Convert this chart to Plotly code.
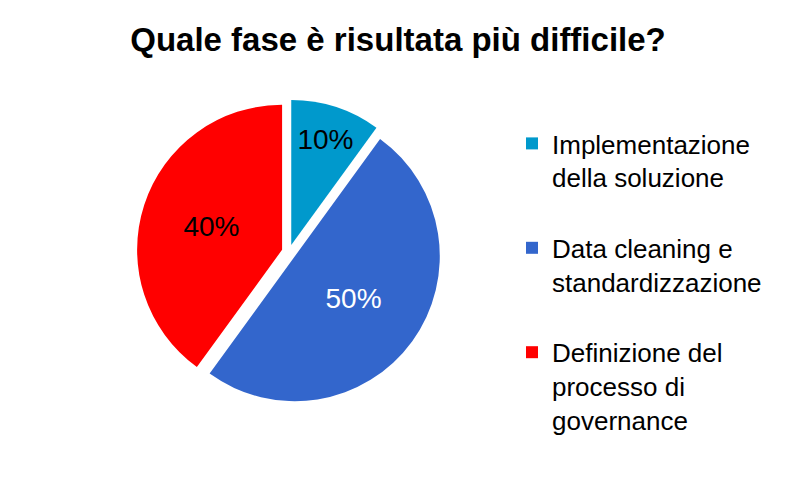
import plotly.graph_objects as go

labels = ["Implementazione<br>della soluzione",
          "Data cleaning e<br>standardizzazione",
          "Definizione del<br>processo di<br>governance"]
values = [10, 50, 40]
colors = ["#0099CC", "#3366CC", "#FF0000"]
text_colors = ["#000000", "#FFFFFF", "#000000"]
title = "Quale fase è risultata più difficile?"

legend_labels = [l + "<br> " for l in labels]

fig = go.Figure(go.Pie(
    labels=legend_labels,
    values=values,
    sort=False,
    direction="clockwise",
    rotation=0,
    pull=[0.05, 0.05, 0.05],
    marker=dict(colors=colors, line=dict(width=0)),
    texttemplate="%{percent:.0%}",
    textposition="inside",
    insidetextorientation="horizontal",
    textfont=dict(family="Liberation Sans, Arial", size=28, color=text_colors),
    domain=dict(x=[0.1718, 0.5543], y=[0.1963, 0.8017]),
    hoverinfo="skip",
))

fig.update_layout(
    width=796, height=503,
    margin=dict(l=0, r=0, t=0, b=0),
    paper_bgcolor="white",
    plot_bgcolor="white",
    font=dict(family="Liberation Sans, Arial", color="#000000"),
    title=dict(text="<b>" + title + "</b>", x=0.5, xanchor="center",
               y=1 - 39 / 503, yanchor="middle",
               font=dict(size=33, color="#000000", family="Liberation Sans, Arial")),
    showlegend=True,
    legend=dict(x=512 / 796, xanchor="left", y=(503 - 120) / 503, yanchor="top",
                valign="top", font=dict(size=26, color="#000000"),
                bgcolor="rgba(0,0,0,0)"),
)

fig.write_html("out.html")
